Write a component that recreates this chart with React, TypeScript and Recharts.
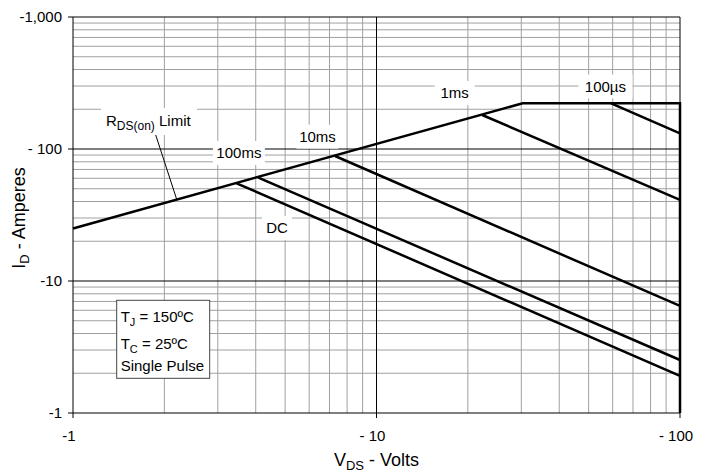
import React from 'react';
import { LineChart, Line, XAxis, YAxis, ReferenceLine, ReferenceDot } from 'recharts';

// |V_DS| in volts on x, |I_D| in amperes on y (both log scales)
const xTicks = [1, 10, 100];
const xTickLabels = ['-1', '- 10', '- 100'];
const yTicks = [1, 10, 100, 1000];
const yTickLabels = ['-1', '-10', '- 100', '-1,000'];

const minorX = [2, 3, 4, 5, 6, 7, 8, 9, 20, 30, 40, 50, 60, 70, 80, 90];
const minorY = [
  2, 3, 4, 5, 6, 7, 8, 9,
  20, 30, 40, 50, 60, 70, 80, 90,
  200, 300, 400, 500, 600, 700, 800, 900,
];
const majorX = [10, 100];
const majorY = [10, 100, 1000];

// outer boundary: RDS(on) limit -> current limit -> BVDSS
const limitV = [1, 30.3, 100, 100];
const limitI = [25, 222, 222, 1];

const us100V = [59.3, 100];
const us100I = [222, 131.5];
const ms1V = [22.3, 100];
const ms1I = [181, 41.1];
const ms10V = [7.3, 100];
const ms10I = [88.5, 6.47];
const ms100V = [4.08, 100];
const ms100I = [60.6, 2.52];
const dcV = [3.46, 100];
const dcI = [55, 1.91];

// curve labels, anchored in data coordinates
const labelText = ['100ms', '10ms', '1ms', '100µs', 'DC'];
const labelV = [3.52, 6.39, 18.1, 56.8, 4.7];
const labelI = [93.3, 124, 265.6, 297.5, 25.2];

const rdsLabelV = 1.78;
const rdsLabelI = 163;
const leaderV = [1.873, 2.196];
const leaderI = [127.7, 41.6];

const noteV = 1.393;
const noteI = 7.14;

const pts = (v: number[], i: number[]) => v.map((x, k) => ({ v: x, i: i[k] }));

const series = [
  pts(limitV, limitI),
  pts(us100V, us100I),
  pts(ms1V, ms1I),
  pts(ms10V, ms10I),
  pts(ms100V, ms100I),
  pts(dcV, dcI),
];

const boxW: Record<string, number> = { '100ms': 52, '10ms': 42, '1ms': 40, '100µs': 54, DC: 30 };

const XTick = (p: any) => {
  const k = xTicks.indexOf(p.payload.value);
  return (
    <text x={p.x - 4} y={p.y} dy="0.71em" textAnchor="middle" fontSize={15} fill="#000">
      {xTickLabels[k]}
    </text>
  );
};

const YTick = (p: any) => {
  const k = yTicks.indexOf(p.payload.value);
  return (
    <text x={p.x} y={p.y} dy="0.355em" textAnchor="end" fontSize={15} fill="#000">
      {yTickLabels[k]}
    </text>
  );
};

const XTitle = (p: any) => {
  const vb = p.viewBox;
  return (
    <text x={vb.x + vb.width / 2} y={vb.y + 53} textAnchor="middle" fontSize={18} fill="#000">
      V<tspan fontSize={13} dy={4}>DS</tspan>
      <tspan dy={-4}> - Volts</tspan>
    </text>
  );
};

const YTitle = (p: any) => {
  const vb = p.viewBox;
  const cx = vb.x + 12;
  const cy = vb.y + vb.height / 2 + 3;
  return (
    <text x={cx} y={cy} transform={`rotate(-90, ${cx}, ${cy})`} textAnchor="middle" fontSize={18} fill="#000">
      I<tspan fontSize={13} dy={4}>D</tspan>
      <tspan dy={-4}> - Amperes</tspan>
    </text>
  );
};

const curveLabel = (text: string) => (p: any) => {
  const w = boxW[text];
  return (
    <g>
      <rect x={p.cx - w / 2} y={p.cy - 12} width={w} height={24} fill="#fff" />
      <text x={p.cx} y={p.cy} dy="0.355em" textAnchor="middle" fontSize={15} fill="#000">
        {text}
      </text>
    </g>
  );
};

const rdsLabel = (p: any) => (
  <g>
    <rect x={p.cx - 48} y={p.cy - 13} width={96} height={27} fill="#fff" />
    <text x={p.cx - 43} y={p.cy + 5} fontSize={15} fill="#000">
      R<tspan fontSize={12} dy={4}>DS(on)</tspan>
      <tspan dy={-4}> Limit</tspan>
    </text>
  </g>
);

const noteBox = (p: any) => (
  <g>
    <rect x={p.cx} y={p.cy} width={93} height={78} fill="#fff" stroke="#444" strokeWidth={1} />
    <text x={p.cx + 4} y={p.cy + 22} fontSize={15} fill="#000">
      T<tspan fontSize={11} dy={4}>J</tspan>
      <tspan dy={-4}> = 150ºC</tspan>
    </text>
    <text x={p.cx + 4} y={p.cy + 49} fontSize={15} fill="#000">
      T<tspan fontSize={11} dy={4}>C</tspan>
      <tspan dy={-4}> = 25ºC</tspan>
    </text>
    <text x={p.cx + 4} y={p.cy + 71} fontSize={15} fill="#000">
      Single Pulse
    </text>
  </g>
);

export default function App() {
  return (
    <div
      style={{
        position: 'absolute', left: 0, top: 0, width: 712, height: 474,
        background: '#fff', fontFamily: '"Liberation Sans", Arial, sans-serif',
      }}
    >
      <LineChart width={712} height={474} margin={{ top: 17, right: 32, bottom: 31, left: 13 }}>
        <XAxis
          dataKey="v" type="number" scale="log" domain={[1, 100]} ticks={xTicks}
          height={30} tickSize={5} tickMargin={12}
          axisLine={{ stroke: '#000' }} tickLine={{ stroke: '#000' }}
          tick={XTick} label={XTitle}
        />
        <YAxis
          dataKey="i" type="number" scale="log" domain={[1, 1000]} ticks={yTicks}
          width={60} tickSize={5} tickMargin={6}
          axisLine={{ stroke: '#000' }} tickLine={{ stroke: '#000' }}
          tick={YTick} label={YTitle}
        />
        {minorX.map((v) => (
          <ReferenceLine key={'mx' + v} x={v} stroke="#a0a0a0" strokeWidth={1} />
        ))}
        {minorY.map((v) => (
          <ReferenceLine key={'my' + v} y={v} stroke="#a0a0a0" strokeWidth={1} />
        ))}
        {majorX.map((v) => (
          <ReferenceLine key={'Mx' + v} x={v} stroke="#000" strokeWidth={1} ifOverflow="visible" />
        ))}
        {majorY.map((v) => (
          <ReferenceLine key={'My' + v} y={v} stroke="#000" strokeWidth={1} ifOverflow="visible" />
        ))}
        {labelText.map((t, k) => (
          <ReferenceDot key={t} x={labelV[k]} y={labelI[k]} r={0} shape={curveLabel(t)} />
        ))}
        <ReferenceDot x={rdsLabelV} y={rdsLabelI} r={0} shape={rdsLabel} />
        <ReferenceLine
          segment={[{ x: leaderV[0], y: leaderI[0] }, { x: leaderV[1], y: leaderI[1] }]}
          stroke="#000" strokeWidth={1}
        />
        <ReferenceDot x={noteV} y={noteI} r={0} shape={noteBox} />
        {series.map((d, k) => (
          <Line
            key={k} data={d} dataKey="i" type="linear" stroke="#000" strokeWidth={2.5}
            dot={false} activeDot={false} isAnimationActive={false}
          />
        ))}
      </LineChart>
    </div>
  );
}
